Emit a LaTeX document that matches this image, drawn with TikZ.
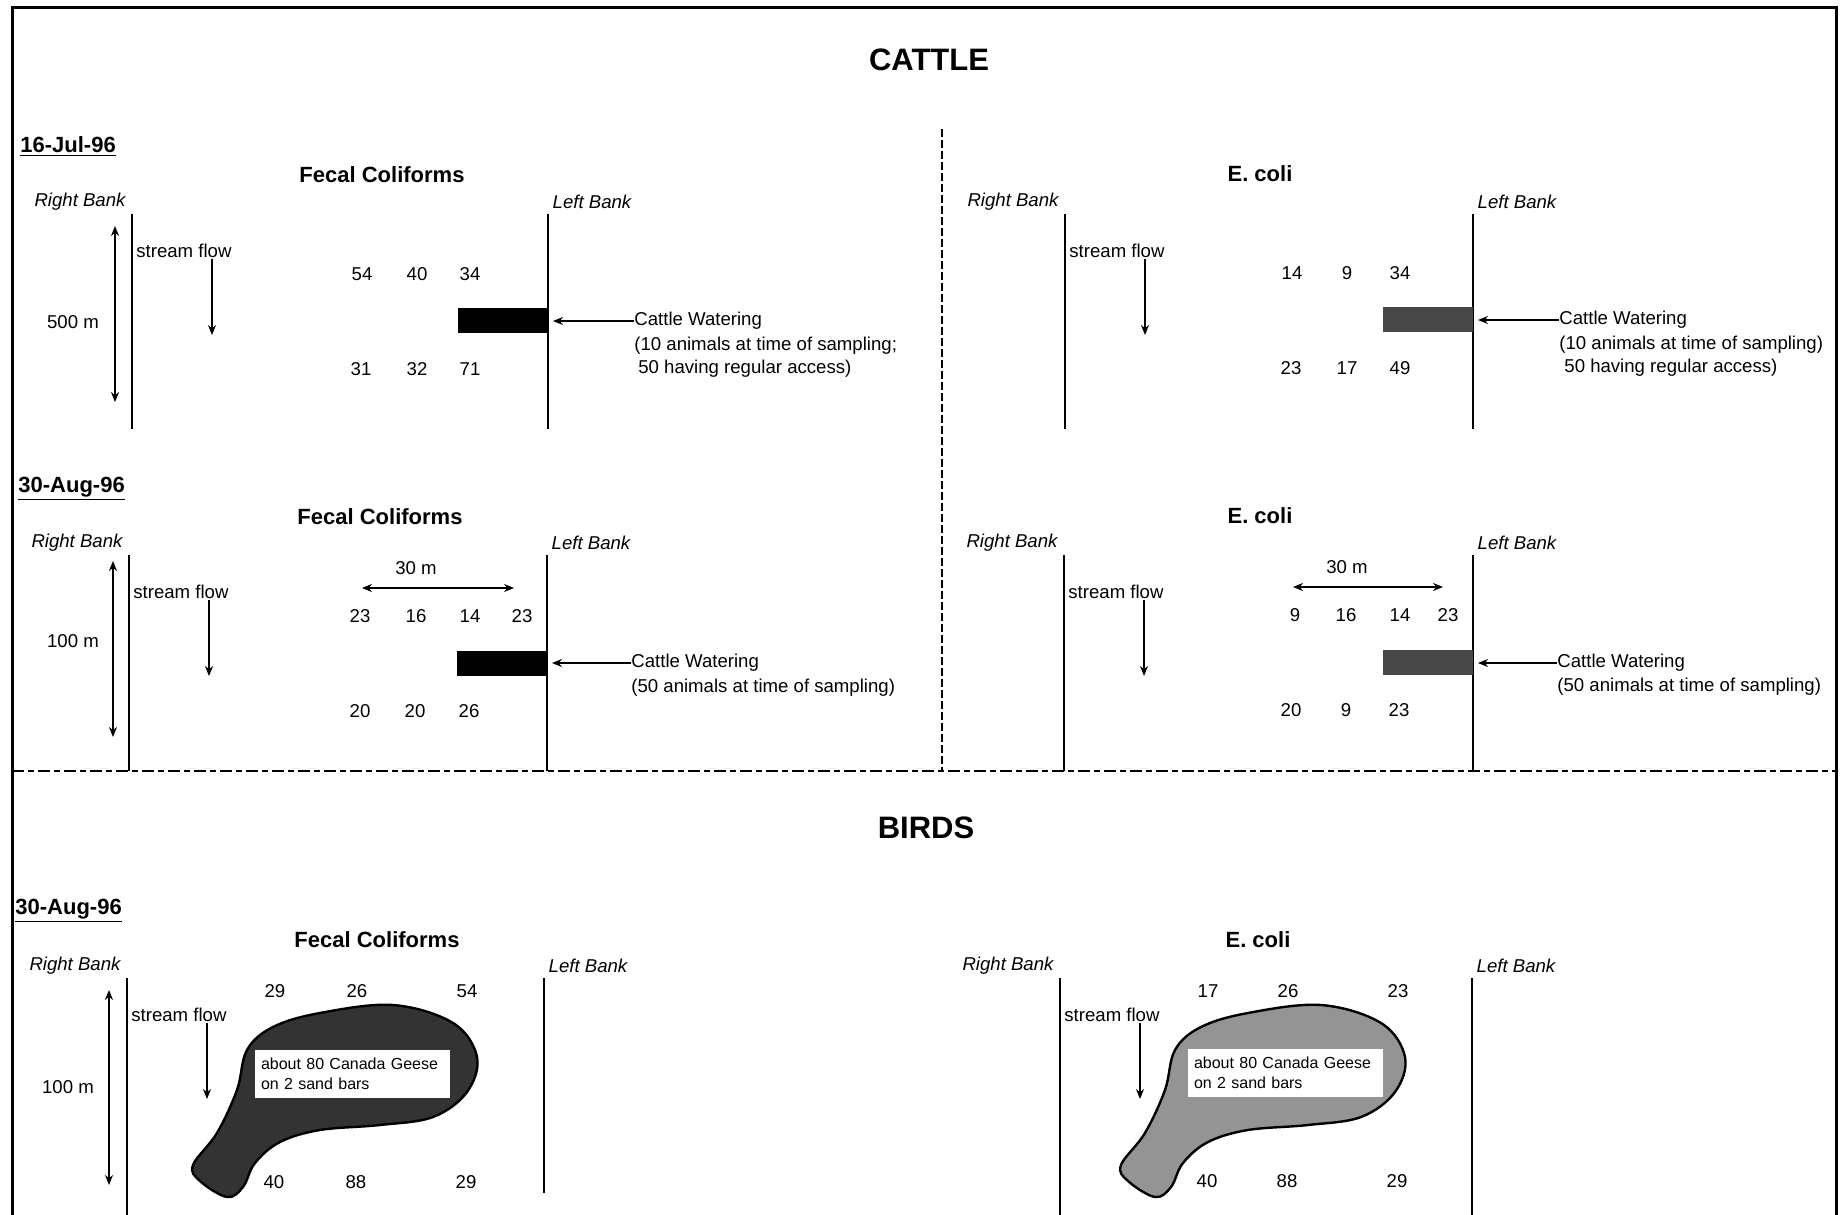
\documentclass[tikz,border=0pt]{standalone}
\usepackage{fontspec}
\setmainfont{Liberation Sans}
\usepackage{tikz}
\usetikzlibrary{calc}
\usetikzlibrary{arrows.meta}
\def\reach(#1)(#2:#3:#4:#5:#6)% Syntax: (name) (right bank x:left bank x:top:bottom:left bank bottom)
{ \node[bank] (#1rb) at (#2-52,#4-12) {Right Bank};
  \node[bank] (#1lb) at (#3+44,#4-12) {Left Bank};
  \draw[shore] (#2,#4) -- (#2,#5);
  \draw[shore] (#3,#4) -- (#3,#6);
  \node[txt,anchor=west] (#1sf) at (#2+4,#4+37) {stream flow};
  \coordinate (#1fa) at (#2+80,#4+45);
  \coordinate (#1fb) at (#2+80,#4+121);
  \draw[flow] (#1fa) -- (#1fb); }
\tikzset{
	txt/.style={font=\fontsize{9.3}{11.5}\selectfont, inner sep=0pt},
	num/.style={txt},
	bank/.style={txt, font=\fontsize{9.3}{11.5}\selectfont\itshape},
	head/.style={font=\bfseries\fontsize{15.5}{18}\selectfont, inner sep=0pt},
	ttl/.style={font=\bfseries\fontsize{11}{13}\selectfont, inner sep=0pt},
	day/.style={font=\bfseries\fontsize{11}{13}\selectfont, anchor=west, inner sep=0pt},
	shore/.style={line width=1pt},
	flow/.style={line width=0.6pt, -{Stealth[length=5pt,width=4pt]}},
	span/.style={line width=0.6pt, {Stealth[length=5pt,width=4pt]}-{Stealth[length=5pt,width=4pt]}},
	bar/.style={inner sep=0pt, minimum width=45pt, minimum height=12.5pt, anchor=east},
	geese/.style={fill=white, inner sep=3pt, text width=91.5pt, minimum height=24pt, align=left, font=\fontsize{8}{10}\selectfont},
	sandbar/.pic={
		\draw[line width=1.2pt, pic actions] plot[smooth cycle, tension=0.6] coordinates {
			(393,1005) (453,1023) (477,1057) (467,1092) (433,1117) (380,1125) (320,1130)
			(280,1142) (255,1163) (243,1187) (227,1197) (200,1181) (193,1165) (217,1133)
			(237,1090) (247,1050) (273,1027) (320,1013)};
	},
}
\begin{document}
\begin{tikzpicture}[x=0.5pt,y=-0.5pt]
	\useasboundingbox (0,0) rectangle (1843,1215);
	\draw[line width=1.5pt] (12,1215) -- (12,7) -- (1836,7) -- (1836,1215);
	\draw[line width=1.3pt, dash pattern=on 6pt off 2pt on 3pt off 2pt] (12,771) -- (1836,771);
	\draw[line width=1pt, dash pattern=on 4pt off 1.5pt] (942,129) -- (942,771);
	\node[head] (cattle) at (929,60) {CATTLE};
	\node[head] (birds) at (926,828) {BIRDS};
	% 16-Jul-96
	\node[day] (jul) at (20,147) {\underline{16-Jul-96}};
	\node[ttl] (afc) at (382,175) {Fecal Coliforms};
	\node[ttl] (bec) at (1260,174) {E. coli};
	\reach(a)(132:548:214:429:429)
	\reach(b)(1065:1473:214:429:429)
	\coordinate (aup) at (115,226);
	\coordinate (adown) at (115,402);
	\draw[span] (aup) -- (adown);
	\node[txt] (alen) at (73,322) {500 m};
	\foreach \x/\v in {362/54,417/40,470/34} \node[num] (au\x) at (\x,274) {\v};
	\foreach \x/\v in {361/31,417/32,470/71} \node[num] (ad\x) at (\x,369) {\v};
	\node[bar, fill=black] (abar) at (548,320.5) {};
	\node[txt, anchor=west] (acw) at (634,321) {Cattle Watering};
	\node[txt, anchor=west] (acw2) at (634,346) {(10 animals at time of sampling;};
	\node[txt, anchor=west] (acw3) at (638,369) {50 having regular access)};
	\draw[flow] (acw.west) -- ($(acw.west -| abar.east)+(5,0)$);
	\foreach \x/\v in {1292/14,1347/9,1400/34} \node[num] (bu\x) at (\x,273) {\v};
	\foreach \x/\v in {1291/23,1347/17,1400/49} \node[num] (bd\x) at (\x,368) {\v};
	\node[bar, fill=black!72] (bbar) at (1473,319.5) {};
	\node[txt, anchor=west] (bcw) at (1559,320) {Cattle Watering};
	\node[txt, anchor=west] (bcw2) at (1559,345) {(10 animals at time of sampling)};
	\node[txt, anchor=west] (bcw3) at (1564,368) {50 having regular access)};
	\draw[flow] (bcw.west) -- ($(bcw.west -| bbar.east)+(5,0)$);
	% 30-Aug-96
	\node[day] (aug) at (18,489) {\underline{30-Aug-96}};
	\node[ttl] (cfc) at (380,517) {Fecal Coliforms};
	\node[ttl] (dec) at (1260,516) {E. coli};
	\reach(c)(129:547:555:771:771)
	\reach(d)(1064:1473:555:771:771)
	\coordinate (cup) at (113,561);
	\coordinate (cdown) at (113,737);
	\draw[span] (cup) -- (cdown);
	\node[txt] (clen) at (73,641) {100 m};
	\node[txt] (cwid) at (416,568) {30 m};
	\coordinate (cl) at (362,588);
	\coordinate (cr) at (514,588);
	\draw[span] (cl) -- (cr);
	\foreach \x/\v in {360/23,416/16,470/14,522/23} \node[num] (cu\x) at (\x,616) {\v};
	\foreach \x/\v in {360/20,415/20,469/26} \node[num] (cd\x) at (\x,711) {\v};
	\node[bar, fill=black] (cbar) at (547,663) {};
	\node[txt, anchor=west] (ccw) at (631,663) {Cattle Watering};
	\node[txt, anchor=west] (ccw2) at (631,688) {(50 animals at time of sampling)};
	\draw[flow] (ccw.west) -- ($(ccw.west -| cbar.east)+(5,0)$);
	\node[txt] (dwid) at (1347,567) {30 m};
	\coordinate (dl) at (1293,587);
	\coordinate (dr) at (1443,587);
	\draw[span] (dl) -- (dr);
	\foreach \x/\v in {1295/9,1346/16,1400/14,1448/23} \node[num] (du\x) at (\x,615) {\v};
	\foreach \x/\v in {1291/20,1346/9,1399/23} \node[num] (dd\x) at (\x,710) {\v};
	\node[bar, fill=black!72] (dbar) at (1473,662.5) {};
	\node[txt, anchor=west] (dcw) at (1557,663) {Cattle Watering};
	\node[txt, anchor=west] (dcw2) at (1557,687) {(50 animals at time of sampling)};
	\draw[flow] (dcw.west) -- ($(dcw.west -| dbar.east)+(5,0)$);
	% birds, 30-Aug-96
	\node[day] (geeseday) at (15,911) {\underline{30-Aug-96}};
	\node[ttl] (efc) at (377,940) {Fecal Coliforms};
	\node[ttl] (fec) at (1258,940) {E. coli};
	\pic[fill=black!80] (esand) at (0,0) {sandbar};
	\pic[fill=black!42] (fsand) at (928,0) {sandbar};
	\reach(e)(127:544:978:1215:1193)
	\reach(f)(1060:1472:978:1215:1215)
	\coordinate (eup) at (109,990);
	\coordinate (edown) at (109,1185);
	\draw[span] (eup) -- (edown);
	\node[txt] (elen) at (68,1087) {100 m};
	\foreach \x/\v in {275/29,357/26,467/54} \node[num] (eu\x) at (\x,991) {\v};
	\foreach \x/\v in {274/40,356/88,466/29} \node[num] (ed\x) at (\x,1182) {\v};
	\node[geese] (egeese) at (352.5,1074) {about 80 Canada Geese\\on 2 sand bars};
	\foreach \x/\v in {1208/17,1288/26,1398/23} \node[num] (fu\x) at (\x,991) {\v};
	\foreach \x/\v in {1207/40,1287/88,1397/29} \node[num] (fd\x) at (\x,1181) {\v};
	\node[geese] (fgeese) at (1285.5,1073) {about 80 Canada Geese\\on 2 sand bars};
\end{tikzpicture}
\end{document}
